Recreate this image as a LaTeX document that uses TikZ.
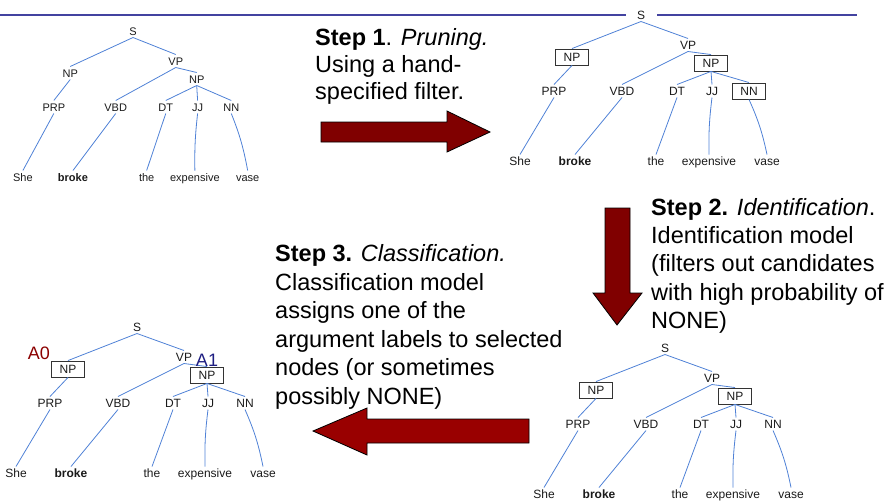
\documentclass[tikz,border=0pt]{standalone}
\usepackage{fontspec}
\setmainfont{Liberation Sans}
\definecolor{arrowred}{HTML}{800000}
\definecolor{arrowredb}{HTML}{990000}
\definecolor{topline}{HTML}{4343A0}
\definecolor{edgeblue}{HTML}{4F81D6}
\definecolor{labeltext}{HTML}{1A1A1A}
\definecolor{aozero}{HTML}{8B0000}
\definecolor{aoone}{HTML}{1E1E82}
\newcommand\stepfont{\fontsize{23.5}{28}\selectfont}
\newcommand\mytree[5]{%
\begin{scope}[#2]
 \node[tl] (#1S) at (0,0) {S};
 \node[tl] (#1VP) at (47,30) {VP};
 \node[#3] (#1NPL) at (-69,42) {NP};
 \node[#4] (#1NPR) at (70,48) {NP};
 \node[tl] (#1PRP) at (-87,76) {PRP};
 \node[tl] (#1VBD) at (-19,76) {VBD};
 \node[tl] (#1DT) at (36,76) {DT};
 \node[tl] (#1JJ) at (71,76) {JJ};
 \node[#5] (#1NN) at (108,76) {NN};
 \node[tl] (#1wa) at (-121,146) {She};
 \node[tl] (#1wb) at (-66,146) {\bfseries broke};
 \node[tl] (#1wc) at (15,146) {the};
 \node[tl] (#1wd) at (68,146) {expensive};
 \node[tl] (#1we) at (126,146) {vase};
 \draw[edge] (#1S.south) -- (#1NPL.north);
 \draw[edge] (#1S.south) -- (#1VP.north);
 \draw[edge] (#1VP.south) -- (#1VBD.north);
 \draw[edge] (#1VP.south) -- (#1NPR.north);
 \draw[edge] (#1NPL.south) -- (#1PRP.north);
 \draw[edge] (#1NPR.south) -- (#1DT.north);
 \draw[edge] (#1NPR.south) -- (#1JJ.north);
 \draw[edge] (#1NPR.south) -- (#1NN.north);
 \draw[edge] (#1PRP.south) -- (#1wa.north);
 \draw[edge] (#1VBD.south) -- (#1wb.north);
 \draw[edge] (#1DT.south) -- (#1wc.north);
 \draw[edge] (#1JJ.south) to[bend right=4] (#1wd.north);
 \draw[edge] (#1NN.south) to[bend left=6] (#1we.north);
\end{scope}}
\begin{document}
\begin{tikzpicture}[x=1pt,y=-1pt,
  tfont/.style={font=\fontsize{12}{14}\selectfont},
  tl/.style={tfont, text=labeltext, inner sep=2pt, text height=8.6pt, text depth=0pt},
  bx/.style={tl, draw=black!80, line width=0.9pt, fill=white, minimum width=33pt, minimum height=16pt, inner sep=0pt},
  edge/.style={draw=edgeblue, line width=0.8pt},
  bigarrow/.style={draw=black, line width=0.8pt, line join=miter},
  stepline/.style={anchor=base west, inner sep=0pt, font=\stepfont, text=black},
  argl/.style={font=\fontsize{18}{20}\selectfont, inner sep=0pt}]
\useasboundingbox (0,0) rectangle (893,501);
% top rule
\draw[topline, line width=2.5pt] (0,15) -- (626,15);
\draw[topline, line width=2.5pt] (657,15) -- (857,15);
% trees
\mytree{a}{shift={(133,31)}, xscale=0.91, tfont/.style={font=\fontsize{11}{13}\selectfont}}{tl}{tl}{tl}
\mytree{b}{shift={(641,15)}}{bx}{bx}{bx}
\mytree{c}{shift={(137,327)}}{bx}{bx}{tl}
\mytree{d}{shift={(665,348)}}{bx}{bx}{tl}
% argument labels
\node[argl, text=aozero] (lA0) at (39,353) {A0};
\node[argl, text=aoone] (lA1) at (207,360) {A1};
% arrows
\filldraw[bigarrow, fill=arrowred] (321,122) -- (447,122) -- (447,111) -- (490,132) -- (447,152) -- (447,142) -- (321,142) -- cycle;
\filldraw[bigarrow, fill=arrowred] (605,208) -- (630,208) -- (630,293) -- (642,293) -- (617,325) -- (593,293) -- (605,293) -- cycle;
\filldraw[bigarrow, fill=arrowredb] (529,419) -- (367,419) -- (367,408) -- (313,431) -- (367,455) -- (367,443) -- (529,443) -- cycle;
% step texts
\node[stepline] (s1a) at (315,45) {\textbf{Step 1}. \textit{Pruning.}};
\node[stepline] (s1b) at (315,72) {Using a hand-};
\node[stepline] (s1c) at (315,99) {specified filter.};
\node[stepline] (s2a) at (651,215) {\textbf{Step 2.} \textit{Identification}.};
\node[stepline] (s2b) at (651,243) {Identification model};
\node[stepline] (s2c) at (651,271) {(filters out candidates};
\node[stepline] (s2d) at (651,300) {with high probability of};
\node[stepline] (s2e) at (651,328) {NONE)};
\node[stepline] (s3a) at (275,261) {\textbf{Step 3.} \textit{Classification.}};
\node[stepline] (s3b) at (275,290) {Classification model};
\node[stepline] (s3c) at (275,318) {assigns one of the};
\node[stepline] (s3d) at (275,347) {argument labels to selected};
\node[stepline] (s3e) at (275,375) {nodes (or sometimes};
\node[stepline] (s3f) at (275,404) {possibly NONE)};
\end{tikzpicture}
\end{document}
